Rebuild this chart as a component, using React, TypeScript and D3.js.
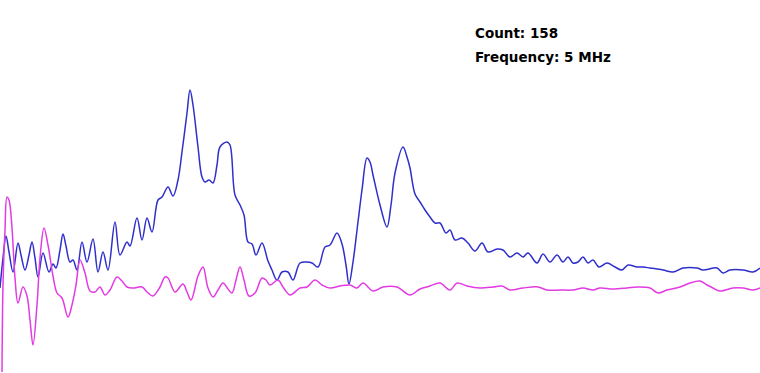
import React from 'react';
import * as d3 from 'd3';

// readings taken off the scope trace: [position, level]
const blueTrace: [number, number][] = [
  [0, 85], [3, 115], [6, 137], [9, 121], [13, 101], [18, 130], [21, 118], [25, 103], [29, 118], [32, 131],
  [35, 115], [38, 96], [43, 120], [49, 101], [53, 109], [56, 105], [60, 123], [63, 139], [66, 127], [70, 111],
  [73, 113], [77, 103], [82, 131], [87, 111], [93, 134], [98, 101], [103, 121], [108, 103], [115, 151], [120, 118],
  [127, 131], [130, 127], [137, 155], [142, 133], [147, 155], [152, 141], [158, 173], [162, 176], [168, 186], [173, 177],
  [178, 193], [182, 221], [187, 260], [190, 283], [193, 268], [198, 226], [202, 196], [205, 191], [209, 193], [213, 190],
  [217, 208], [220, 226], [227, 231], [230, 228], [235, 178], [240, 168], [244, 158], [248, 131], [252, 129], [256, 118],
  [262, 130], [268, 112], [272, 103], [277, 93], [282, 101], [288, 101], [293, 93], [300, 110], [307, 111], [312, 110],
  [318, 106], [325, 126], [330, 128], [337, 140], [342, 129], [346, 108], [349, 89], [353, 111], [358, 151], [362, 183],
  [367, 215], [370, 211], [373, 198], [380, 168], [387, 146], [391, 168], [395, 200], [403, 226], [407, 216], [410, 205],
  [415, 179], [420, 171], [425, 163], [430, 156], [435, 150], [440, 150], [446, 140], [450, 143], [455, 133], [462, 135],
  [468, 130], [475, 122], [482, 130], [488, 121], [497, 124], [503, 123], [510, 116], [517, 120], [523, 116], [528, 120],
  [537, 110], [543, 119], [550, 111], [557, 118], [563, 111], [568, 116], [573, 110], [578, 111], [583, 116], [588, 110],
  [593, 113], [599, 106], [607, 110], [615, 106], [622, 103], [628, 108], [637, 106], [643, 106], [650, 105], [663, 103],
  [673, 101], [683, 105], [697, 105], [703, 103], [717, 105], [723, 100], [730, 103], [743, 103], [753, 101], [760, 105],
];

const pinkTrace: [number, number][] = [
  [2, 1], [3, 88], [5, 143], [7, 176], [9, 173], [12, 145], [15, 95], [18, 70], [23, 86], [27, 77],
  [30, 53], [33, 28], [37, 68], [40, 115], [44, 145], [48, 128], [53, 97], [57, 80], [62, 75], [68, 56],
  [72, 68], [76, 88], [80, 113], [85, 100], [90, 82], [95, 81], [100, 86], [105, 78], [110, 83], [117, 96],
  [122, 92], [127, 86], [133, 85], [142, 86], [147, 81], [153, 77], [160, 86], [165, 96], [168, 95], [175, 81],
  [183, 89], [187, 81], [191, 73], [198, 97], [203, 106], [208, 85], [213, 76], [218, 83], [223, 90], [228, 84],
  [232, 80], [236, 93], [240, 106], [244, 93], [249, 77], [255, 80], [262, 95], [266, 93], [270, 88], [278, 93],
  [283, 86], [290, 78], [300, 85], [307, 86], [315, 93], [322, 88], [330, 85], [340, 87], [350, 88], [357, 85],
  [363, 90], [373, 82], [383, 86], [397, 86], [410, 78], [420, 84], [430, 87], [440, 90], [450, 83], [457, 90],
  [467, 87], [480, 85], [493, 86], [502, 87], [510, 83], [523, 85], [538, 86], [547, 83], [560, 83], [573, 83],
  [583, 85], [593, 83], [600, 85], [613, 84], [627, 85], [637, 86], [650, 85], [658, 80], [667, 83], [680, 86],
  [690, 90], [700, 92], [707, 88], [713, 85], [720, 82], [733, 85], [743, 85], [753, 83], [760, 85],
];

const labels = ['Count: 158', 'Frequency: 5 MHz'];

const width = 760;
const height = 373;

export default function App() {
  const x = d3.scaleLinear().domain([0, 760]).range([0, width]);
  const y = d3.scaleLinear().domain([0, 373]).range([height, 0]);

  const line = d3
    .line<[number, number]>()
    .x(d => x(d[0]))
    .y(d => y(d[1]))
    .curve(d3.curveCatmullRom.alpha(0.5));

  return (
    <svg
      width={width}
      height={height}
      style={{ position: 'absolute', left: 0, top: 0, background: '#fff' }}
    >
      <path d={line(blueTrace) || ''} fill="none" stroke="#2f2fcc" strokeWidth={1.5} />
      <path d={line(pinkTrace) || ''} fill="none" stroke="#e33be3" strokeWidth={1.5} />
      {labels.map((t, i) => (
        <text
          key={t}
          x={475}
          y={38 + i * 24}
          fontFamily="'DejaVu Sans', sans-serif"
          fontWeight="bold"
          fontSize={13.5}
          fill="#000"
        >
          {t}
        </text>
      ))}
    </svg>
  );
}
